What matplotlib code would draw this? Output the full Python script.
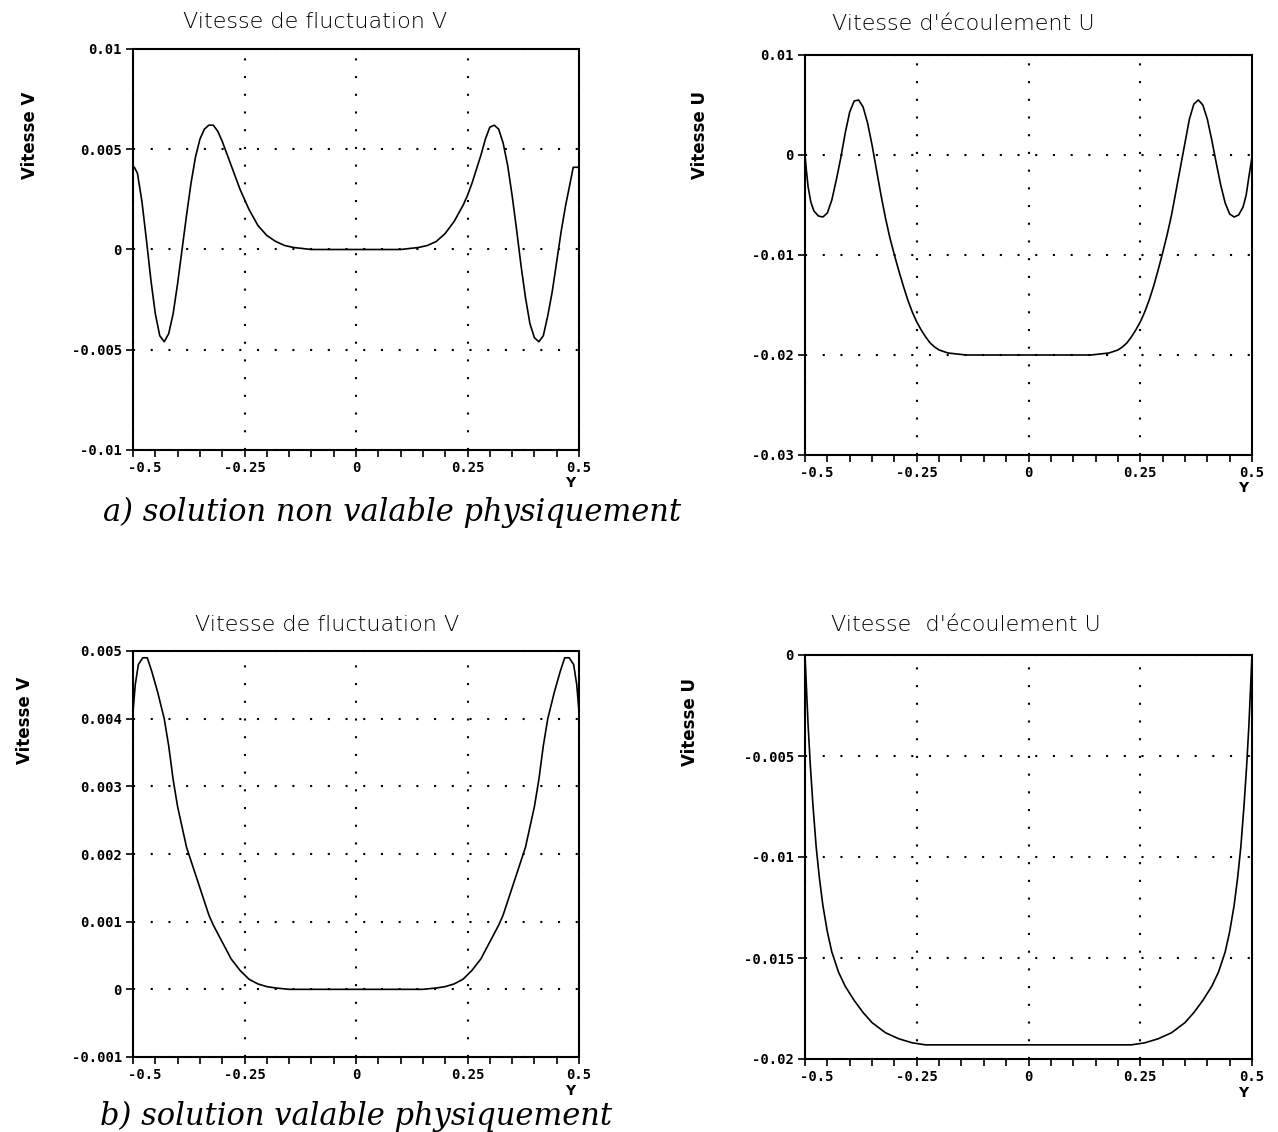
import matplotlib.pyplot as plt
import matplotlib.transforms as mtransforms
from matplotlib.ticker import MultipleLocator

W, H = 1278, 1132

# --- data ---
xticks = [-0.5, -0.25, 0, 0.25, 0.5]
xtick_labels = ["-0.5", "-0.25", "0", "0.25", "0.5"]

# a) fluctuation V (non physical solution)
y_va = [-0.5, -0.497, -0.49, -0.48, -0.47, -0.46, -0.45, -0.44, -0.43, -0.42,
        -0.41, -0.40, -0.39, -0.38, -0.37, -0.36, -0.35, -0.34, -0.33, -0.32,
        -0.31, -0.30, -0.29, -0.28, -0.27, -0.26, -0.25, -0.24, -0.22, -0.20,
        -0.18, -0.16, -0.14, -0.12, -0.10, 0.0, 0.10, 0.12, 0.14, 0.16, 0.18,
        0.20, 0.22, 0.24, 0.25, 0.26, 0.27, 0.28, 0.29, 0.30, 0.31, 0.32, 0.33,
        0.34, 0.35, 0.36, 0.37, 0.38, 0.39, 0.40, 0.41, 0.42, 0.43, 0.44, 0.45,
        0.46, 0.47, 0.48, 0.487, 0.5]
v_a = [0.0041, 0.0041, 0.0038, 0.0024, 0.0005, -0.0015, -0.0032, -0.0043, -0.0046, -0.0042,
       -0.0032, -0.0017, 0.0000, 0.0017, 0.0033, 0.0046, 0.0055, 0.0060, 0.0062, 0.0062,
       0.0059, 0.0054, 0.0048, 0.0042, 0.0036, 0.0030, 0.0025, 0.0020, 0.0012, 0.0007,
       0.0004, 0.0002, 0.0001, 0.00005, 0.0, 0.0, 0.0, 0.00005, 0.0001, 0.0002, 0.0004,
       0.0008, 0.0014, 0.0022, 0.0027, 0.0033, 0.0040, 0.0047, 0.0055, 0.0061, 0.0062, 0.0060, 0.0053,
       0.0042, 0.0027, 0.0010, -0.0008, -0.0024, -0.0037, -0.0044, -0.0046, -0.0043, -0.0033, -0.0021, -0.0006,
       0.0009, 0.0022, 0.0033, 0.0041, 0.0041]
yt_va = [-0.01, -0.005, 0, 0.005, 0.01]
yl_va = ["-0.01", "-0.005", "0", "0.005", "0.01"]

# a) flow U
y_ua = [-0.5, -0.497, -0.493, -0.487, -0.48, -0.47, -0.46, -0.45, -0.44, -0.43,
        -0.42, -0.41, -0.40, -0.39, -0.38, -0.37, -0.36, -0.35, -0.34, -0.33,
        -0.32, -0.31, -0.30, -0.29, -0.28, -0.27, -0.26, -0.25, -0.24, -0.23,
        -0.22, -0.21, -0.20, -0.18, -0.16, -0.14, 0.0, 0.14, 0.16, 0.18, 0.20,
        0.21, 0.22, 0.23, 0.24, 0.25, 0.26, 0.27, 0.28, 0.29, 0.30, 0.31, 0.32,
        0.33, 0.34, 0.35, 0.36, 0.37, 0.38, 0.39, 0.40, 0.41, 0.42, 0.43, 0.44,
        0.45, 0.46, 0.47, 0.48, 0.487, 0.493, 0.5]
u_a = [0.0, -0.0015, -0.0032, -0.0047, -0.0056, -0.0061, -0.0062, -0.0058, -0.0045, -0.0025,
       -0.0003, 0.0022, 0.0043, 0.0054, 0.0055, 0.0048, 0.0032, 0.0010, -0.0015, -0.0040,
       -0.0063, -0.0083, -0.0100, -0.0116, -0.0131, -0.0145, -0.0157, -0.0167, -0.0175, -0.0182,
       -0.0188, -0.0192, -0.0195, -0.0198, -0.0199, -0.0200, -0.0200, -0.0200, -0.0199, -0.0198, -0.0195,
       -0.0192, -0.0188, -0.0182, -0.0175, -0.0167, -0.0157, -0.0145, -0.0131, -0.0115, -0.0098, -0.0080, -0.0060,
       -0.0036, -0.0012, 0.0012, 0.0036, 0.0051, 0.0055, 0.0050, 0.0036, 0.0015, -0.0008, -0.0030, -0.0048,
       -0.0059, -0.0062, -0.0060, -0.0052, -0.0040, -0.0022, -0.0002]
yt_ua = [-0.03, -0.02, -0.01, 0, 0.01]
yl_ua = ["-0.03", "-0.02", "-0.01", "0", "0.01"]

# b) fluctuation V (physical solution)
y_vb = [-0.5, -0.495, -0.488, -0.478, -0.468, -0.458, -0.445, -0.43, -0.42, -0.41,
        -0.40, -0.39, -0.38, -0.37, -0.36, -0.35, -0.34, -0.33, -0.32, -0.30,
        -0.28, -0.26, -0.24, -0.22, -0.20, -0.18, -0.15, 0.0, 0.15, 0.18, 0.20,
        0.22, 0.24, 0.26, 0.28, 0.30, 0.32, 0.33, 0.34, 0.35, 0.36, 0.37, 0.38,
        0.39, 0.40, 0.41, 0.42, 0.43, 0.445, 0.458, 0.468, 0.478, 0.488, 0.495, 0.5]
v_b = [0.0041, 0.0045, 0.0048, 0.0049, 0.0049, 0.0047, 0.0044, 0.0040, 0.0036, 0.0031,
       0.0027, 0.0024, 0.0021, 0.0019, 0.0017, 0.0015, 0.0013, 0.0011, 0.00095, 0.0007,
       0.00045, 0.00028, 0.00015, 0.00008, 0.00004, 0.00002, 0.0, 0.0, 0.0, 0.00002, 0.00004,
       0.00008, 0.00015, 0.00028, 0.00045, 0.0007, 0.00095, 0.0011, 0.0013, 0.0015, 0.0017, 0.0019, 0.0021,
       0.0024, 0.0027, 0.0031, 0.0036, 0.0040, 0.0044, 0.0047, 0.0049, 0.0049, 0.0048, 0.0045, 0.0041]
yt_vb = [-0.001, 0, 0.001, 0.002, 0.003, 0.004, 0.005]
yl_vb = ["-0.001", "0", "0.001", "0.002", "0.003", "0.004", "0.005"]

# b) flow U
y_ub = [-0.5, -0.497, -0.493, -0.488, -0.482, -0.475, -0.468, -0.46, -0.45, -0.44,
        -0.425, -0.41, -0.39, -0.37, -0.35, -0.32, -0.29, -0.26, -0.23, 0.0,
        0.23, 0.26, 0.29, 0.32, 0.35, 0.37, 0.39, 0.41, 0.425, 0.44, 0.45,
        0.46, 0.468, 0.475, 0.482, 0.488, 0.493, 0.497, 0.5]
u_b = [0.0, -0.0015, -0.0035, -0.0055, -0.0075, -0.0095, -0.0110, -0.0124, -0.0137, -0.0147,
       -0.0157, -0.0164, -0.0171, -0.0177, -0.0182, -0.0187, -0.0190, -0.0192, -0.0193, -0.0193,
       -0.0193, -0.0192, -0.0190, -0.0187, -0.0182, -0.0177, -0.0171, -0.0164, -0.0157, -0.0147, -0.0137,
       -0.0124, -0.0110, -0.0095, -0.0075, -0.0055, -0.0035, -0.0015, 0.0]
yt_ub = [-0.02, -0.015, -0.01, -0.005, 0]
yl_ub = ["-0.02", "-0.015", "-0.01", "-0.005", "0"]


def px_rect(x0, y0, x1, y1):
    return [x0 / W, 1 - y1 / H, (x1 - x0) / W, (y1 - y0) / H]


def panel(rect, ys, vals, yt, yl, title, title_xy, ylabel, ylabel_xy):
    ax = fig.add_axes(px_rect(*rect))
    ax.plot(ys, vals, color="black", lw=1.2)
    ax.set_xlim(-0.5, 0.5)
    ax.set_ylim(yt[0], yt[-1])
    ax.set_xticks(xticks)
    ax.set_xticklabels(xtick_labels, family="DejaVu Sans Mono", weight="bold", fontsize=10)
    ax.xaxis.set_minor_locator(MultipleLocator(0.05))
    ax.set_yticks(yt)
    ax.set_yticklabels(yl, family="DejaVu Sans Mono", weight="bold", fontsize=10)
    ax.grid(True, color="black", lw=1.5, ls=(0, (1, 7.5)))
    ax.tick_params(which="both", direction="out", length=5, width=1.2, pad=3)
    for s in ax.spines.values():
        s.set_linewidth(1.5)
    # first x label sits a bit right of the left edge in the original
    lab = ax.get_xticklabels()[0]
    lab.set_transform(lab.get_transform() + mtransforms.ScaledTranslation(0.12, 0, fig.dpi_scale_trans))
    # "Y" sits under the 0.5 tick label
    ax.text(0.98, -0.066, "Y", transform=ax.transAxes, ha="center", va="top",
            fontsize=10, weight="bold")
    fig.text(title_xy[0] / W, 1 - title_xy[1] / H, title, ha="center", va="center",
             fontsize=16, family="DejaVu Sans", weight="light")
    fig.text(ylabel_xy[0] / W, 1 - ylabel_xy[1] / H, ylabel, ha="center", va="center",
             rotation=90, fontsize=12, weight="bold", family="DejaVu Sans")
    return ax


fig = plt.figure(figsize=(W / 100, H / 100), dpi=100)

panel((133, 49, 579, 450), y_va, v_a, yt_va, yl_va,
      "Vitesse de fluctuation V", (315, 22), "Vitesse V", (30, 135))
panel((805, 55, 1252, 455), y_ua, u_a, yt_ua, yl_ua,
      "Vitesse d'écoulement U", (963, 24), "Vitesse U", (700, 135))
panel((133, 651, 579, 1057), y_vb, v_b, yt_vb, yl_vb,
      "Vitesse de fluctuation V", (327, 625), "Vitesse V", (25, 720))
panel((805, 655, 1252, 1059), y_ub, u_b, yt_ub, yl_ub,
      "Vitesse  d'écoulement U", (966, 625), "Vitesse U", (690, 722))

fig.text(103 / W, 1 - 512 / H, "a) solution non valable physiquement", ha="left", va="center",
         fontsize=22, style="italic", family="DejaVu Serif")
fig.text(100 / W, 1 - 1116 / H, "b) solution valable physiquement", ha="left", va="center",
         fontsize=22, style="italic", family="DejaVu Serif")

fig.savefig("out.png", dpi=100)
